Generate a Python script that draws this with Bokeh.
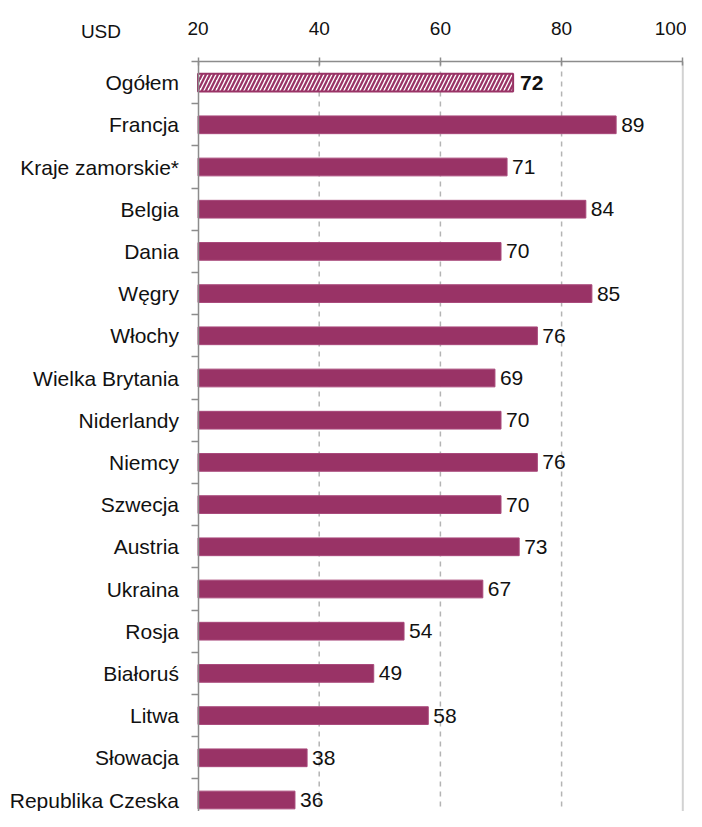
from bokeh.plotting import figure
from bokeh.models import (ColumnDataSource, Range1d, LinearAxis, FixedTicker, Label)
from bokeh.core.properties import value
from bokeh.embed import file_html
from bokeh.resources import INLINE

categories = ["Ogółem", "Francja", "Kraje zamorskie*", "Belgia", "Dania", "Węgry",
              "Włochy", "Wielka Brytania", "Niderlandy", "Niemcy", "Szwecja",
              "Austria", "Ukraina", "Rosja", "Białoruś", "Litwa", "Słowacja",
              "Republika Czeska"]
values = [72, 89, 71, 84, 70, 85, 76, 69, 70, 76, 70, 73, 67, 54, 49, 58, 38, 36]
x_ticks = [20, 40, 60, 80, 100]
unit_label = "USD"

FONT = "Liberation Sans"
PLUM = "#993366"
AXIS = "#8c8c8c"

idx = list(range(len(categories)))
n = len(categories)
total_src = ColumnDataSource(dict(y=idx[:1], v=values[:1], t=[str(v) for v in values[:1]]))
rest_src = ColumnDataSource(dict(y=idx[1:], v=values[1:], t=[str(v) for v in values[1:]]))

W, H = 686, 811
x0_px, px_per_unit = 197.5, 6.06
top_px, pitch = 61.0, 42.2
x_start = x_ticks[0] - x0_px / px_per_unit
x_end = x_ticks[-1] + (W - x0_px - (x_ticks[-1] - x_ticks[0]) * px_per_unit) / px_per_unit
y_top = -0.5 - top_px / pitch
y_bottom = -0.5 + (H - top_px) / pitch

p = figure(width=W, height=H, output_backend="svg", toolbar_location=None,
           x_range=Range1d(x_start, x_end), y_range=Range1d(y_bottom, y_top),
           x_axis_location=None, y_axis_location=None,
           min_border_left=0, min_border_right=0, min_border_top=0,
           min_border_bottom=0)
p.outline_line_color = None
p.background_fill_color = "white"
p.border_fill_color = "white"
p.xgrid.visible = False
p.ygrid.visible = False

# grid lines (dashed) and right edge line, from the axis down
grid_x = x_ticks[1:-1]
p.segment(x0=grid_x, y0=[-0.5] * len(grid_x), x1=grid_x, y1=[y_bottom] * len(grid_x),
          line_color="#b4b4b4", line_dash="5 5", line_width=1.5)
p.segment(x0=[x_ticks[-1]], y0=[-0.5], x1=[x_ticks[-1]], y1=[y_bottom],
          line_color="#d2d2d2", line_width=2)

# top axis
xa = LinearAxis(ticker=FixedTicker(ticks=x_ticks), fixed_location=-0.5,
                bounds=(x_ticks[0], x_ticks[-1]))
xa.axis_line_color = AXIS
xa.axis_line_width = 1.5
xa.major_tick_line_color = AXIS
xa.major_tick_line_width = 1.5
xa.major_tick_in = 4
xa.major_tick_out = 4
xa.minor_tick_line_color = None
xa.major_label_standoff = 23
xa.major_label_text_font = FONT
xa.major_label_text_font_size = "19px"
xa.major_label_text_color = "#111111"
p.add_layout(xa, "above")

# left axis
ya = LinearAxis(ticker=FixedTicker(ticks=idx, minor_ticks=[i - 0.5 for i in idx] + [n - 0.5]),
                fixed_location=x_ticks[0], bounds=(-0.5, n - 0.5))
ya.major_label_overrides = {i: c for i, c in zip(idx, categories)}
ya.axis_line_color = AXIS
ya.axis_line_width = 1.5
ya.major_tick_line_color = None
ya.major_tick_in = 0
ya.major_tick_out = 0
ya.minor_tick_line_color = AXIS
ya.minor_tick_line_width = 1.5
ya.minor_tick_in = 0
ya.minor_tick_out = 7
ya.major_label_standoff = 12
ya.major_label_text_font = FONT
ya.major_label_text_font_size = "21px"
ya.major_label_text_color = "#111111"
p.add_layout(ya, "left")

# bars
p.hbar(y="y", left=x_ticks[0], right="v", height=0.42, source=rest_src,
       fill_color=PLUM, line_color="#a8487a", line_width=1)
p.hbar(y="y", left=x_ticks[0], right="v", height=0.42, source=total_src,
       fill_color="white", line_color=PLUM, line_width=2,
       hatch_pattern="/", hatch_color=PLUM, hatch_weight=2.3, hatch_scale=8)

# value labels
p.text(x="v", y="y", text="t", source=rest_src, x_offset=5,
       text_baseline="middle", text_align="left", text_font=value(FONT),
       text_font_size="21px", text_color="#111111")
p.text(x="v", y="y", text="t", source=total_src, x_offset=7,
       text_baseline="middle", text_align="left", text_font=value(FONT),
       text_font_size="21px", text_font_style="bold", text_color="#111111")

p.add_layout(Label(x=x_ticks[0], y=-0.5, x_offset=-77, y_offset=30, text=unit_label,
                   text_align="right", text_baseline="middle",
                   text_font=FONT, text_font_size="19px", text_color="#111111"))

open("out.html", "w").write(file_html(p, INLINE))
